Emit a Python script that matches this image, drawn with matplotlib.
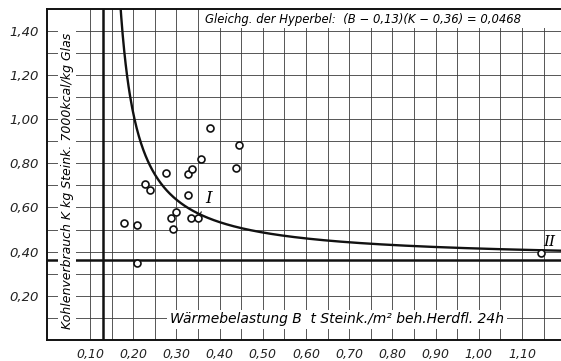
import numpy as np
import matplotlib
matplotlib.use("Agg")
import matplotlib.pyplot as plt
from matplotlib.patches import Rectangle

# ---- data ----
B_points = [0.179, 0.209, 0.210, 0.228, 0.240, 0.277, 0.287, 0.293, 0.299,
            0.327, 0.326, 0.337, 0.358, 0.377, 0.335, 0.350, 0.437, 0.445, 1.143]
K_points = [0.528, 0.520, 0.347, 0.707, 0.680, 0.754, 0.553, 0.501, 0.580,
            0.656, 0.750, 0.774, 0.819, 0.961, 0.551, 0.553, 0.777, 0.882, 0.392]

B0, K0, C = 0.13, 0.36, 0.0468   # hyperbola (B-0.13)(K-0.36)=0.0468

x_ticks = [0.10, 0.20, 0.30, 0.40, 0.50, 0.60, 0.70, 0.80, 0.90, 1.00, 1.10]
x_ticklabels = ["0,10", "0,20", "0,30", "0,40", "0,50", "0,60", "0,70",
                "0,80", "0,90", "1,00", "1,10"]
y_ticks = [0.20, 0.40, 0.60, 0.80, 1.00, 1.20, 1.40]
y_ticklabels = ["0,20", "0,40", "0,60", "0,80", "1,00", "1,20", "1,40"]

title_text = "Gleichg. der Hyperbel:  (B − 0,13)(K − 0,36) = 0,0468"
xlabel_text = "Wärmebelastung B  t Steink./m² beh.Herdfl. 24h"
ylabel_text = "Kohlenverbrauch K kg Steink. 7000kcal/kg Glas"

plt.rcParams['font.family'] = ['DejaVu Sans']

fig = plt.figure(figsize=(5.61, 3.61), dpi=100)
ax = fig.add_axes([46.7 / 561, 21 / 361, 1 - 46.7 / 561, (340 - 8.5) / 361])
ax.set_xlim(0, 1.19)
ax.set_ylim(0, 1.5)

# grid
ax.set_xticks(x_ticks)
ax.set_xticks(np.arange(0.15, 1.19, 0.10), minor=True)
ax.set_yticks(np.arange(0.1, 1.45, 0.1), minor=True)
ax.set_yticks(y_ticks)
ax.grid(True, which='both', color='#3a3a3a', linewidth=0.6, zorder=0)
ax.set_axisbelow(True)
ax.set_xticklabels(x_ticklabels, fontsize=9, style='italic', color='#222222')
ax.set_yticklabels(y_ticklabels, fontsize=9.5, style='italic', color='#222222')
ax.tick_params(which='both', length=0, pad=6)

for s in ['left', 'bottom', 'top']:
    ax.spines[s].set_linewidth(1.4)
    ax.spines[s].set_color('#111111')
ax.spines['right'].set_visible(False)

# white band behind the equation
ax.add_patch(Rectangle((0.304, 0.94), 0.696, 0.06, transform=ax.transAxes,
                       facecolor='white', edgecolor='none', zorder=1.5))

# asymptotes
ax.axvline(B0, color='#111111', linewidth=1.8, zorder=2)
ax.axhline(K0, color='#111111', linewidth=1.8, zorder=2)

# hyperbola
Bc = np.linspace(B0 + C / (1.5 - K0) - 0.002, 1.19, 600)
Kc = K0 + C / (Bc - B0)
ax.plot(Bc, Kc, color='#111111', linewidth=1.7, zorder=3)

# measured points
ax.plot(B_points, K_points, linestyle='none', marker='o', markersize=5,
        markerfacecolor='white', markeredgecolor='#111111',
        markeredgewidth=1.2, zorder=4)

# labels I and II
ax.annotate("I", xy=(B_points[15], K_points[15]), xytext=(0.375, 0.64),
            fontsize=12, family='DejaVu Serif', style='italic',
            ha='center', va='center',
            arrowprops=dict(arrowstyle='-', color='#111111', lw=0.8,
                            shrinkA=2, shrinkB=3), zorder=5)
ax.annotate("II", xy=(B_points[18], K_points[18]), xytext=(1.163, 0.445),
            fontsize=11, family='DejaVu Serif', style='italic',
            ha='center', va='center', zorder=5)

# texts inside axes
ax.text(0.733, 1.448, title_text, fontsize=8.4, style='italic',
        ha='center', va='center', zorder=6)
ax.text(0.672, 0.093, xlabel_text, fontsize=10, style='italic',
        ha='center', va='center', zorder=6,
        bbox=dict(facecolor='white', edgecolor='none', pad=2))
ax.text(0.047, 0.72, ylabel_text, fontsize=9, style='italic',
        rotation=90, ha='center', va='center', zorder=6,
        bbox=dict(facecolor='white', edgecolor='none', pad=1.5))

fig.savefig("out.png", dpi=100)
